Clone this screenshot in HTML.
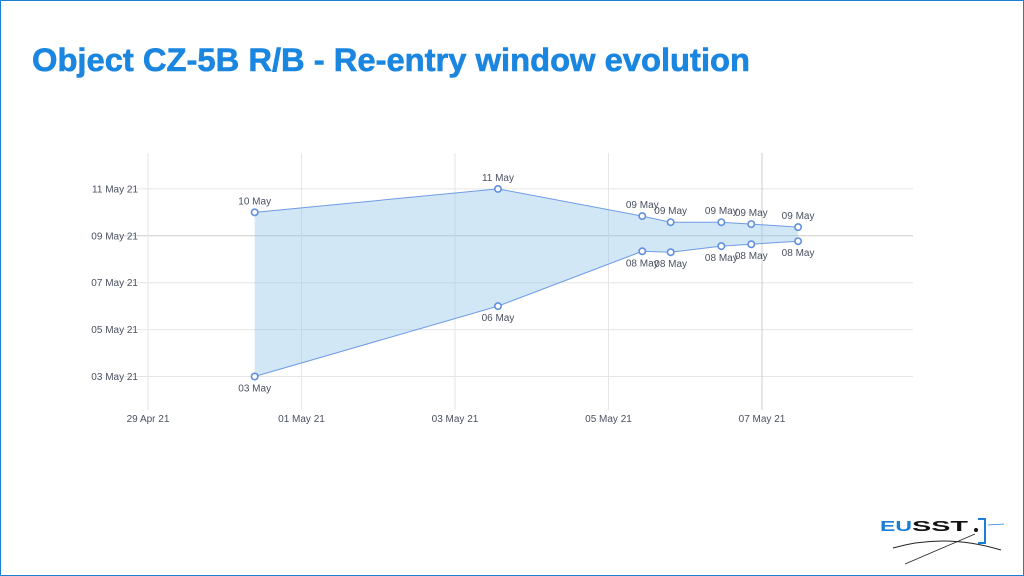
<!DOCTYPE html>
<html><head><meta charset="utf-8"><style>
html,body{margin:0;padding:0;background:#fff}
svg{display:block;font-family:"Liberation Sans",sans-serif}
</style></head><body>
<svg width="1024" height="576" viewBox="0 0 1024 576">
<rect x="0.5" y="0.5" width="1023" height="575" fill="#fff" stroke="#1a7fd6" stroke-width="1"/>
<text x="32" y="71" font-size="32" font-weight="bold" fill="#1a86e0" stroke="#1a86e0" stroke-width="0.6" textLength="718" lengthAdjust="spacingAndGlyphs">Object CZ-5B R/B - Re-entry window evolution</text>
<g id="chart"></g>
<g>
<text x="880" y="531" font-size="15" font-weight="bold" fill="#1a7fd6" textLength="32" lengthAdjust="spacingAndGlyphs">EU</text>
<text x="912" y="531" font-size="15" font-weight="bold" fill="#111" textLength="56" lengthAdjust="spacingAndGlyphs">SST</text>
<circle cx="976" cy="530" r="2" fill="#111"/>
<path d="M978 519 h7 v24 h-7" fill="none" stroke="#1a7fd6" stroke-width="2"/>
<line x1="988" y1="525" x2="1004" y2="524" stroke="#1a7fd6" stroke-width="0.8"/>
<path d="M893 548 Q945 533 1001 550" fill="none" stroke="#222" stroke-width="1"/>
<line x1="905" y1="564" x2="975" y2="534" stroke="#222" stroke-width="0.8"/>
</g>
</svg>
<script>
const xTickLabels=["29 Apr 21","01 May 21","03 May 21","05 May 21","07 May 21"];
const xTickValues=[0,2,4,6,8];
const yTickLabels=["03 May 21","05 May 21","07 May 21","09 May 21","11 May 21"];
const yTickValues=[0,2,4,6,8];
// x: days since 29 Apr 00:00 ; y: days since 03 May 00:00
const predictionTimes=[1.39,4.56,6.44,6.81,7.47,7.86,8.47];
const upperValues=[7.0,8.0,6.84,6.58,6.58,6.5,6.37];
const lowerValues=[0.0,3.0,5.34,5.3,5.56,5.64,5.77];
const upperLabels=["10 May","11 May","09 May","09 May","09 May","09 May","09 May"];
const lowerLabels=["03 May","06 May","08 May","08 May","08 May","08 May","08 May"];

const NS="http://www.w3.org/2000/svg";
const g=document.getElementById('chart');
const X=v=>148+v*76.75, Y=v=>376.5-v*23.45;
function mk(t,a){const e=document.createElementNS(NS,t);for(const k in a)e.setAttribute(k,a[k]);g.appendChild(e);return e;}
yTickValues.forEach((v,i)=>{
 const l=mk('line',{x1:120,x2:913,y1:Y(v),y2:Y(v),stroke:i==3?'#ccc':'#e6e6e6','stroke-width':1});
 
 
 const t=mk('text',{x:138,y:Y(v)+3.5,'font-size':10,fill:'#4a5060','text-anchor':'end'});
 t.textContent=yTickLabels[i];
 
 
});
xTickValues.forEach((v,i)=>{
 const l=mk('line',{x1:X(v),x2:X(v),y1:153,y2:410,stroke:i==4?'#ccc':'#e6e6e6','stroke-width':1});
 
 
 const t=mk('text',{x:X(v),y:422,'font-size':10,fill:'#4a5060','text-anchor':'middle'});
 t.textContent=xTickLabels[i];
 
 
});
let d='';
predictionTimes.forEach((x,i)=>{d+=(i?'L':'M')+X(x)+' '+Y(upperValues[i]);});
for(let i=predictionTimes.length-1;i>=0;i--)d+='L'+X(predictionTimes[i])+' '+Y(lowerValues[i]);
const area=mk('path',{d:d+'Z',fill:'rgba(140,195,230,0.4)',stroke:'none'});


[[upperValues,upperLabels,-8,'upper'],[lowerValues,lowerLabels,15,'lower']].forEach(([vals,labs,dy,nm])=>{
 const pl=mk('polyline',{points:predictionTimes.map((x,i)=>X(x)+','+Y(vals[i])).join(' '),fill:'none',stroke:'#6f9be6','stroke-width':1});
 
 
 predictionTimes.forEach((x,i)=>{
  const c=mk('circle',{cx:X(x),cy:Y(vals[i]),r:3.2,fill:'#fff',stroke:'#5f8fe0','stroke-width':1.6});
  
  
  const t=mk('text',{x:X(x),y:Y(vals[i])+dy,'font-size':10,fill:'#4a5060','text-anchor':'middle'});
  t.textContent=labs[i];
  
  
 });
});
</script>
</body></html>
